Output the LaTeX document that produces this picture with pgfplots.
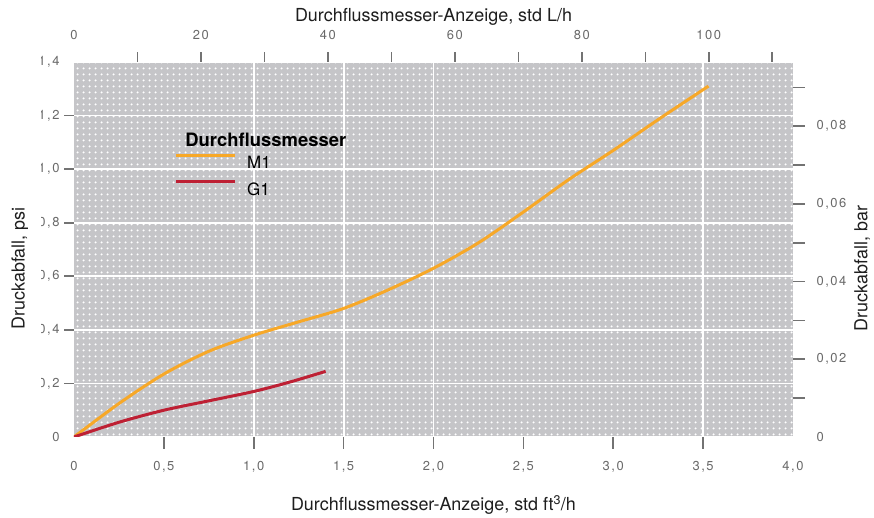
\documentclass[border=0pt]{standalone}
\usepackage{fontspec}
\setmainfont{TeX Gyre Heros}
\newfontfamily\tickfont[LetterSpace=12]{TeX Gyre Heros}
\usepackage{pgfplots}
\pgfplotsset{compat=1.18}
\usetikzlibrary{patterns.meta}
\definecolor{bgbase}{RGB}{197,197,200}
\definecolor{mone}{RGB}{247,168,40}
\definecolor{gone}{RGB}{190,32,52}
\definecolor{ticklab}{RGB}{105,105,105}
\definecolor{tickcol}{RGB}{115,115,115}
\definecolor{txt}{RGB}{30,30,30}
\begin{document}
\begin{tikzpicture}
\pgfplotsset{
  common/.style={scale only axis, width=719bp, height=375bp,
    major tick length=0bp, minor tick length=0bp,
    axis line style={draw=none},
    ticklabel style={font=\tickfont\fontsize{13}{13}\selectfont, text=ticklab},
    /pgf/number format/assume math mode=true,
    scaled x ticks=false, scaled y ticks=false,
  },
}
% main axis: background, grid, data, bottom/left labels
\begin{axis}[common, name=main,
  xmin=0, xmax=4, ymin=0, ymax=1.4,
  axis x line*=bottom, axis y line*=left,
  axis background/.style={preaction={fill=bgbase}, pattern={Dots[distance=6bp, radius=1.3bp]}, pattern color=white},
  xtick={0,0.5,1,1.5,2,2.5,3,3.5,4},
  xticklabels={0,{0,5},{1,0},{1,5},{2,0},{2,5},{3,0},{3,5},{4,0}},
  xticklabel style={yshift=-21bp},
  ytick={0,0.2,0.4,0.6,0.8,1.0,1.2,1.4},
  yticklabels={0,{0,2},{0,4},{0,6},{0,8},{1,0},{1,2},{1,4}},
  yticklabel style={xshift=-11bp},
  ymajorgrids, grid style={white, line width=1.8bp},
  legend style={draw=none, fill=none, at={(axis cs:0.54,1.066)}, anchor=north west,
    font=\fontsize{17}{17}\selectfont, row sep=8bp, column sep=9bp, cells={anchor=west}},
  legend image code/.code={\draw[#1] (0bp,8bp) -- (59bp,8bp);},
]
\pgfplotsinvokeforeach{1,1.5,2,3.5}{\draw[white, line width=1.8bp] (axis cs:#1,0) -- (axis cs:#1,1.4);}
\addplot[mone, line width=3bp, smooth] coordinates {
(0,0) (0.25,0.125) (0.5,0.235) (0.75,0.32) (1.0,0.38) (1.25,0.43) (1.5,0.48)
(1.75,0.55) (2.0,0.63) (2.25,0.725) (2.5,0.84) (2.75,0.96) (3.0,1.07) (3.25,1.185) (3.53,1.31)};
\addlegendentry{M1}
\addplot[gone, line width=3bp, smooth] coordinates {
(0,0) (0.25,0.055) (0.5,0.1) (0.75,0.135) (1.0,0.17) (1.2,0.205) (1.4,0.245)};
\addlegendentry{G1}
\node[anchor=west, font=\bfseries\fontsize{18.5}{18.5}\selectfont, text=black] at (axis cs:0.6,1.111) {Durchflussmesser};
\end{axis}
% top/right labels
\begin{axis}[common, xmin=0, xmax=113.2674, ymin=0, ymax=0.0965266,
  axis x line*=top, axis y line*=right,
  xtick={0,20,40,60,80,100}, xticklabels={0,20,40,60,80,100},
  xticklabel style={yshift=19bp},
  ytick={0,0.02,0.04,0.06,0.08}, yticklabels={0,{0,02},{0,04},{0,06},{0,08}},
  yticklabel style={xshift=20bp},
]
\end{axis}
% tick marks as small filled bars: bottom every 0.5 ft3/h, left every 0.2 psi,
% top every 10 L/h, right every 0.01 bar (719bp = 4 ft3/h, 375bp = 1.4 psi)
\foreach \v in {0.5,1,1.5,2,2.5,3,3.5}
  \fill[tickcol] ([xshift=\v*179.75bp-0.8bp]main.south west) rectangle ++(1.6bp,-12bp);
\foreach \v in {0.2,0.4,0.6,0.8,1.0,1.2}
  \fill[tickcol] ([yshift=\v*267.857bp-0.8bp]main.south west) rectangle ++(-10bp,1.6bp);
\foreach \v in {10,20,30,40,50,60,70,80,90,100,110}
  \fill[tickcol] ([xshift=\v*6.34785bp-0.8bp]main.north west) rectangle ++(1.6bp,10bp);
\foreach \v in {1,2,3,4,5,6,7,8,9}
  \fill[tickcol] ([yshift=\v*38.8497bp-0.8bp]main.south east) rectangle ++(12bp,1.6bp);
\begin{scope}[font=\fontsize{18}{18}\selectfont, text=txt]
\node at ([yshift=-68bp]main.south) {Durchflussmesser-Anzeige, std ft\textsuperscript{3}/h};
\node at ([yshift=45bp]main.north) {Durchflussmesser-Anzeige, std L/h};
\node[rotate=90] at ([xshift=-54bp,yshift=-19bp]main.west) {Druckabfall, psi};
\node[rotate=90] at ([xshift=69bp,yshift=-19bp]main.east) {Druckabfall, bar};
\end{scope}
\fill[white] ([xshift=-46bp,yshift=-12bp]main.south west) rectangle ([xshift=-33bp,yshift=12bp]main.north west);
\pgfresetboundingbox
\path ([xshift=-74bp,yshift=-81bp]main.south west) rectangle ([xshift=81bp,yshift=62bp]main.north east);
\end{tikzpicture}
\end{document}
